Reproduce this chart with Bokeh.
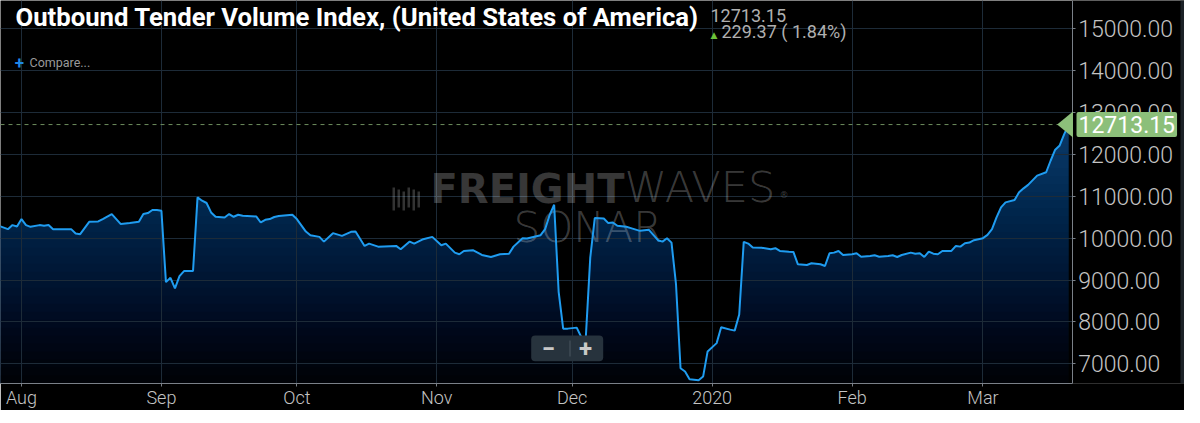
import numpy as np
import pandas as pd
from bokeh.plotting import figure
from bokeh.models import (Range1d, FixedTicker, NumeralTickFormatter, Label, Span,
                          BoxAnnotation, PolyAnnotation, ColumnDataSource)
from bokeh.embed import file_html
from bokeh.resources import INLINE

# ---------------- data ----------------
dates = [
    "2019-07-27", "2019-07-29", "2019-07-30", "2019-07-31", "2019-08-01", "2019-08-02",
    "2019-08-03", "2019-08-05", "2019-08-06", "2019-08-07", "2019-08-08", "2019-08-10",
    "2019-08-12", "2019-08-13", "2019-08-14", "2019-08-16", "2019-08-18", "2019-08-19",
    "2019-08-21", "2019-08-23", "2019-08-25", "2019-08-27", "2019-08-28", "2019-08-29",
    "2019-08-30", "2019-08-31", "2019-09-01", "2019-09-02", "2019-09-03", "2019-09-04",
    "2019-09-05", "2019-09-06", "2019-09-08", "2019-09-09", "2019-09-10", "2019-09-11",
    "2019-09-12", "2019-09-13", "2019-09-15", "2019-09-16", "2019-09-17", "2019-09-18",
    "2019-09-19", "2019-09-22", "2019-09-23", "2019-09-24", "2019-09-25", "2019-09-26",
    "2019-09-27", "2019-09-30", "2019-10-01", "2019-10-03", "2019-10-04", "2019-10-06",
    "2019-10-07", "2019-10-09", "2019-10-11", "2019-10-13", "2019-10-14", "2019-10-16",
    "2019-10-17", "2019-10-19", "2019-10-23", "2019-10-24", "2019-10-26", "2019-10-27",
    "2019-10-29", "2019-10-31", "2019-11-02", "2019-11-03", "2019-11-05", "2019-11-06",
    "2019-11-07", "2019-11-09", "2019-11-11", "2019-11-13", "2019-11-15", "2019-11-17",
    "2019-11-18", "2019-11-20", "2019-11-21", "2019-11-24", "2019-11-25", "2019-11-26",
    "2019-11-27", "2019-11-28", "2019-11-29", "2019-11-30", "2019-12-02", "2019-12-03",
    "2019-12-04", "2019-12-05", "2019-12-06", "2019-12-08", "2019-12-09", "2019-12-10",
    "2019-12-11", "2019-12-13", "2019-12-14", "2019-12-16", "2019-12-18", "2019-12-20",
    "2019-12-21", "2019-12-22", "2019-12-23", "2019-12-24", "2019-12-25", "2019-12-26",
    "2019-12-27", "2019-12-29", "2019-12-30", "2019-12-31", "2020-01-02", "2020-01-03",
    "2020-01-05", "2020-01-06", "2020-01-07", "2020-01-08", "2020-01-09", "2020-01-10",
    "2020-01-12", "2020-01-14", "2020-01-15", "2020-01-16", "2020-01-18", "2020-01-19",
    "2020-01-20", "2020-01-22", "2020-01-23", "2020-01-25", "2020-01-26", "2020-01-27",
    "2020-01-28", "2020-01-29", "2020-01-30", "2020-02-01", "2020-02-02", "2020-02-03",
    "2020-02-05", "2020-02-06", "2020-02-07", "2020-02-09", "2020-02-10", "2020-02-11",
    "2020-02-12", "2020-02-14", "2020-02-15", "2020-02-16", "2020-02-17", "2020-02-18",
    "2020-02-19", "2020-02-20", "2020-02-21", "2020-02-23", "2020-02-24", "2020-02-25",
    "2020-02-26", "2020-02-27", "2020-02-28", "2020-03-01", "2020-03-02", "2020-03-03",
    "2020-03-04", "2020-03-05", "2020-03-06", "2020-03-08", "2020-03-09", "2020-03-10",
    "2020-03-11", "2020-03-13", "2020-03-15", "2020-03-16", "2020-03-17", "2020-03-18",
    "2020-03-19", "2020-03-20",
]
values = [
    10295, 10216, 10312, 10280, 10456, 10312,
    10271, 10312, 10295, 10312, 10216, 10216,
    10216, 10110, 10096, 10391, 10400, 10456,
    10576, 10336, 10360, 10391, 10576, 10600,
    10672, 10672, 10655, 8951, 9054, 8800,
    9095, 9215, 9215, 10975, 10895, 10840,
    10615, 10511, 10495, 10576, 10511, 10560,
    10535, 10520, 10375, 10439, 10456, 10505,
    10528, 10560, 10456, 10158, 10072, 10031,
    9918, 10120, 10055, 10151, 10158, 9815,
    9870, 9798, 9815, 9736, 9918, 9870,
    9976, 10031, 9832, 9870, 9654, 9616,
    9695, 9712, 9599, 9551, 9616, 9630,
    9798, 10000, 9990, 10072, 10216, 10552,
    10799, 8720, 7840, 7840, 7864, 7641,
    7600, 9535, 10480, 10471, 10360, 10375,
    10295, 10271, 10240, 10175, 10199, 9952,
    9918, 10000, 9894, 8895, 6894, 6815,
    6630, 6607, 6695, 7295, 7494, 7871,
    7816, 7792, 8176, 9911, 9870, 9775,
    9770, 9736, 9760, 9695, 9678, 9671,
    9376, 9360, 9400, 9376, 9335, 9640,
    9655, 9695, 9599, 9616, 9640, 9558,
    9575, 9591, 9558, 9575, 9591, 9551,
    9599, 9655, 9630, 9640, 9551, 9679,
    9630, 9616, 9695, 9695, 9815, 9798,
    9880, 9894, 9952, 10000, 10079, 10216,
    10495, 10735, 10855, 10912, 11094, 11190,
    11272, 11495, 11574, 11855, 12112, 12215,
    12483.78, 12713.15,
]
tick_dates = ["2019-08-01", "2019-09-01", "2019-10-01", "2019-11-01",
              "2019-12-01", "2020-01-01", "2020-02-01", "2020-03-01"]
tick_labels = ["Aug", "Sep", "Oct", "Nov", "Dec", "2020", "Feb", "Mar"]
y_ticks = [7000, 8000, 9000, 10000, 11000, 12000, 13000, 14000, 15000]
title_text = "Outbound Tender Volume Index, (United States of America)"
change_abs = 229.37
change_pct = 1.84

# ---------------- layout constants ----------------
FW, FH, BB = 1184, 383, 24          # frame width/height, bottom border
PXD = 4.514                          # pixels per day
X0 = pd.Timestamp("2019-07-27 08:24")
X1 = X0 + pd.Timedelta(days=FW / PXD)
XA = X0 + pd.Timedelta(days=1071.7 / PXD)   # position of the value axis
PPU = 41.875 / 1000                  # pixels per index unit
Y1 = 15000 + 28.3 / PPU
Y0 = 15000 - (FH - 28.3) / PPU


def ms(ts):
    return ts.value / 1e6


src = ColumnDataSource(dict(x=pd.to_datetime(dates), y=values))

p = figure(frame_width=FW, frame_height=FH, x_axis_type="datetime",
           y_axis_location="right",
           x_range=Range1d(X0, X1), y_range=Range1d(Y0, Y1),
           output_backend="svg", toolbar_location=None,
           min_border_left=0, min_border_top=0, min_border_right=0,
           min_border_bottom=BB,
           background_fill_color="black", border_fill_color="black",
           outline_line_color=None)

# axes
tick_ms = [ms(pd.Timestamp(d)) for d in tick_dates]
p.xaxis.ticker = FixedTicker(ticks=tick_ms)
p.xaxis.major_label_overrides = {t: l for t, l in zip(tick_ms, tick_labels)}
p.xaxis.bounds = (ms(X0), ms(XA))
p.yaxis.ticker = FixedTicker(ticks=y_ticks)
p.yaxis.formatter = NumeralTickFormatter(format="0.00")
p.yaxis.fixed_location = ms(XA)
for ax in (p.xaxis[0], p.yaxis[0]):
    ax.axis_line_color = "#7a8088"
    ax.major_tick_line_color = "#7a8088"
    ax.major_tick_in = 0
    ax.major_tick_out = 3
    ax.minor_tick_line_color = None
    ax.major_label_text_color = "#c4c4c4"
    ax.major_label_text_font = "Roboto Light"
p.yaxis.major_label_text_font_size = "23px"
p.yaxis.major_label_standoff = 3
p.xaxis.major_label_text_font_size = "18px"
p.xaxis.major_label_standoff = 0

p.xgrid.grid_line_color = "#1d2b38"
p.ygrid.grid_line_color = "#1d2b38"

# area fill with vertical gradient (base colour + nested darkening layers)
p.varea(x="x", y1=Y0, y2="y", source=src, fill_color="#0e3b6c", level="image")
N = 48
tops = np.linspace(Y1, Y0, N + 1)[:-1]
tm = (np.arange(N) + 0.5) / N
T = 1 - 0.93 * np.clip((tm - 0.25) / 0.75, 0, 1) ** 1.5
prevT = np.concatenate([[1.0], T[:-1]])
a = np.clip(1 - T / prevT, 0, 1)
bands = ColumnDataSource(dict(top=tops, a=a))
p.quad(left=ms(X0), right=ms(XA), top="top", bottom=Y0,
       source=bands, fill_color="black", fill_alpha="a", line_color=None,
       level="image")

# last value dashed line (under the axis cover)
v = values[-1]
p.add_layout(Span(location=v, dimension="width", line_color="#6d8c5d",
                  line_dash="4 4", line_width=1, level="underlay"))

# watermark
scr = dict(left_units="screen", right_units="screen",
           top_units="screen", bottom_units="screen")
wm = dict(x_units="screen", y_units="screen", text_color="white", level="underlay")
F = FH  # screen y is measured up from the frame bottom
for i in range(6):
    p.add_layout(BoxAnnotation(left=392 + i * 5, right=394.5 + i * 5,
                               bottom=F - 210 + (i % 2) * 3, top=F - 187 - (i % 3) * 2,
                               fill_color="white", fill_alpha=0.2, line_color=None,
                               level="underlay", **scr))
p.add_layout(Label(x=430, y=F - 211, text="FREIGHT", text_font="DejaVu Sans",
                   text_font_style="bold", text_font_size="40px",
                   text_alpha=0.22, **wm))
p.add_layout(Label(x=624, y=F - 211, text="WAVES", text_font="DejaVu Sans Light",
                   text_font_size="43px", text_alpha=0.24, **wm))
p.add_layout(Label(x=779, y=F - 199, text="®", text_font="DejaVu Sans",
                   text_font_size="9px", text_alpha=0.24, **wm))
p.add_layout(Label(x=587.5, y=F - 251, text="SONAR", text_font="DejaVu Sans Light",
                   text_font_size="42px", text_alpha=0.24, text_align="center", **wm))

# series line
p.line("x", "y", source=src, line_color="#1f9cf0", line_width=2)

# cover grid lines right of the value axis
p.add_layout(BoxAnnotation(left=ms(XA), fill_color="black", fill_alpha=1,
                           line_color=None, level="glyph"))

# last value tag
d = 13.0 / PPU
p.add_layout(PolyAnnotation(xs=[1056.7, 1072.5, 1072.5], ys=[v, v + d, v - d],
                            xs_units="screen", ys_units="data",
                            fill_color="#8cbf7a", fill_alpha=1, line_color=None))
p.add_layout(Label(x=1076, y=v, x_units="screen", y_units="data",
                   text=f"{v:.2f}", text_font="Roboto", text_font_size="23px",
                   text_color="white", text_baseline="middle",
                   background_fill_color="#8cbf7a", background_fill_alpha=1,
                   padding=(2, 4), border_radius=2))

# header texts
hd = dict(x_units="screen", y_units="screen")
p.add_layout(Label(x=15, y=F - 31.7, text=title_text, text_font="Roboto",
                   text_font_style="bold", text_font_size="25.7px",
                   text_color="white", **hd))
p.add_layout(Label(x=710, y=F - 21.7, text=f"{v:.2f}", text_font="Roboto",
                   text_font_size="18px", text_color="#b0b0b0", **hd))
p.add_layout(Label(x=713.5, y=F - 34.5, text="▲", text_font="DejaVu Sans",
                   text_font_size="9px", text_color="#6cc23a",
                   text_align="center", text_baseline="middle", **hd))
p.add_layout(Label(x=721, y=F - 41.7, text=f"{change_abs:.2f} ( {change_pct:.2f}%)",
                   text_font="Roboto", text_font_size="18px", text_color="#b0b0b0", **hd))
p.add_layout(Label(x=19, y=F - 62.5, text="+", text_font="Roboto", text_font_style="bold",
                   text_font_size="17px", text_color="#1e88e5",
                   text_align="center", text_baseline="middle", **hd))
p.add_layout(Label(x=29, y=F - 69.3, text="Compare...", text_font="Roboto",
                   text_font_size="12.5px", text_color="#9a9a9a", **hd))

# zoom control
p.add_layout(BoxAnnotation(left=530.7, right=602.7, bottom=F - 360.7, top=F - 335,
                           fill_color="#27333d", fill_alpha=1, line_color=None,
                           border_radius=4, **scr))
p.add_layout(BoxAnnotation(left=569, right=570, bottom=F - 356, top=F - 340,
                           fill_color="#4a5660", fill_alpha=1, line_color=None, **scr))
p.add_layout(Label(x=548, y=F - 347.8, text="−", text_font="Roboto", text_font_style="bold",
                   text_font_size="24px", text_color="#c8c8c8",
                   text_align="center", text_baseline="middle", **hd))
p.add_layout(Label(x=585, y=F - 347.8, text="+", text_font="Roboto", text_font_style="bold",
                   text_font_size="24px", text_color="#c8c8c8",
                   text_align="center", text_baseline="middle", **hd))

# dark strip at the right edge
p.add_layout(BoxAnnotation(left=1180, fill_color="#1c2127", fill_alpha=1,
                           line_color=None, level="overlay", left_units="screen"))

open("out.html", "w").write(file_html(p, INLINE))
